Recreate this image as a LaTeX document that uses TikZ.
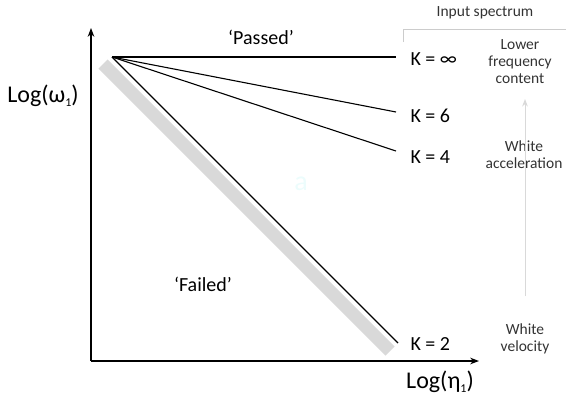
\documentclass[tikz,border=0pt]{standalone}
\usepackage{fontspec}
\setmainfont{Carlito}
\usetikzlibrary{arrows.meta,positioning}
\definecolor{faint}{RGB}{236,252,252}
\newcommand{\lowone}{\raisebox{-4pt}{\fontsize{12}{12}\selectfont 1}}

\begin{document}
\begin{tikzpicture}[x=1pt,y=-1pt,>=Stealth,
                    axis/.style={->,line width=1.3pt},
                    klabel/.style={anchor=west,font=\fontsize{20}{22}\selectfont},
                    side/.style={align=center,font=\fontsize{15.5}{17}\selectfont,text=black!80},
                    big/.style={font=\fontsize{24}{26}\selectfont}]
    \useasboundingbox (0,0) rectangle (566,399);

    % shaded band under the K = 2 line
    \draw[line width=13pt,black!15] (103,64) -- (390,351);

    % axes
    \coordinate (O) at (91,361);
    \coordinate (ytop) at (91,28);
    \coordinate (xend) at (479,361);
    \draw[axis] (O) -- (ytop);
    \draw[axis] (O) -- (xend);
    \node[big] (ylab) at (43,96) {Log(ω\lowone)};
    \node[big] (xlab) at (440,382) {Log(η\lowone)};

    % fan of K lines
    \coordinate (fan) at (112,57);
    \node[klabel] (kinf) at (407,59) {K = ∞};
    \node[klabel] (k6) at (407,116) {K = 6};
    \node[klabel] (k4) at (407,157) {K = 4};
    \node[klabel] (k2) at (407,344) {K = 2};
    \coordinate (einf) at (396,57);
    \coordinate (e6) at (396,112);
    \coordinate (e4) at (396,151);
    \coordinate (e2) at (398,343);
    \foreach \e in {einf,e6,e4,e2}
        \draw[line width=1.1pt] (fan) -- (\e);

    \node[klabel,anchor=center] (pass) at (261,37) {‘Passed’};
    \node[klabel,anchor=center] (fail) at (203,284) {‘Failed’};
    \node[font=\fontsize{28}{30}\selectfont,text=faint] (mark) at (301,184) {a};

    % input spectrum key
    \node[side] (spec) at (485,13) {Input spectrum};
    \draw[black!20,line width=0.8pt] (403,42) -- (403,29) -- (566,29);
    \node[side] (low) at (520,62) {Lower\\frequency\\content};
    \node[side] (wacc) at (524,155) {White\\acceleration};
    \node[side] (wvel) at (525,339) {White\\velocity};
    \draw[->,black!15,line width=1pt] (525,296) -- (525,99);
\end{tikzpicture}
\end{document}
